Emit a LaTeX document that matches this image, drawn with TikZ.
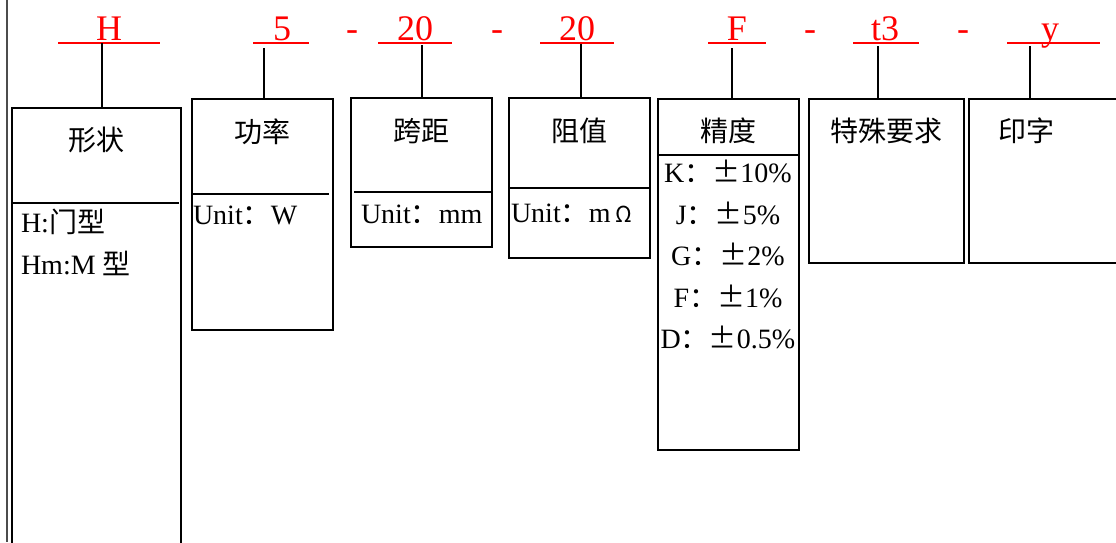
\documentclass[tikz,border=0pt]{standalone}
\usepackage{fontspec}
\setmainfont{Liberation Serif}
\newfontfamily\cjk{Noto Sans CJK SC}

\begin{document}
\begin{tikzpicture}[x=1pt, y=-1pt, every node/.style={inner sep=0pt, outer sep=0pt, font=\fontsize{28}{34}\selectfont},
    box/.style={draw, line width=1.6pt, anchor=north west},
    rule/.style={line width=2.8pt},
    link/.style={line width=1.6pt},
    code/.style={red, anchor=base, font=\fontsize{36}{40}\selectfont},
    uline/.style={red, line width=1.2pt}]
  \useasboundingbox (0,0) rectangle (1116,542);

  % Frame line
  \draw[gray!60!black, line width=1.2pt] (7,0) -- (7,542);

  % Code letters
  \node[code] (cH) at (109,40) {H};
  \node[code] (c5) at (282,40) {5};
  \node[code] (d1) at (352,40) {-};
  \node[code] (c20a) at (415,40) {20};
  \node[code] (d2) at (497,40) {-};
  \node[code] (c20b) at (577,40) {20};
  \node[code] (cF) at (737,40) {F};
  \node[code] (d3) at (810,40) {-};
  \node[code] (ct3) at (885,40) {t3};
  \node[code] (d4) at (963,40) {-};
  \node[code] (cy) at (1050,40) {y};

  % Underlines
  \draw[uline] (58,43) -- (160,43);
  \draw[uline] (253,43) -- (309,43);
  \draw[uline] (378,43) -- (452,43);
  \draw[uline] (540,43) -- (614,43);
  \draw[uline] (708,43) -- (766,43);
  \draw[uline] (853,43) -- (919,43);
  \draw[uline] (1007,43) -- (1100,43);
  \coordinate (uH) at (102,43);
  \coordinate (u5) at (264,48);
  \coordinate (u20a) at (422,45);
  \coordinate (u20b) at (581,44);
  \coordinate (uF) at (732,48);
  \coordinate (ut3) at (878,46);
  \coordinate (uy) at (1030,46);

  % Boxes
  \node[box, minimum width=169, minimum height=480] (shape) at (12,108) {};
  \node[box, minimum width=141, minimum height=231] (power) at (192,99) {};
  \node[box, minimum width=141, minimum height=149] (span) at (351,98) {};
  \node[box, minimum width=141, minimum height=160] (res) at (509,98) {};
  \node[box, minimum width=141, minimum height=351] (prec) at (658,99) {};
  \node[box, minimum width=155, minimum height=164] (spec) at (809,99) {};
  \node[box, minimum width=200, minimum height=164] (print) at (969,99) {};

  % Dividers
  \draw[rule] (12,203) -- (179,203);
  \draw[rule] (192,194) -- (329,194);
  \draw[rule] (354,192) -- (491,192);
  \draw[rule] (509,188) -- (651,188);
  \draw[rule] (658,155) -- (800,155);

  % Connectors
  \draw[link, line width=2.8pt] (uH) -- (uH |- shape.north);
  \draw[link] (u5) -- (u5 |- power.north);
  \draw[link] (u20a) -- (u20a |- span.north);
  \draw[link] (u20b) -- (u20b |- res.north);
  \draw[link] (uF) -- (uF |- prec.north);
  \draw[link] (ut3) -- (ut3 |- spec.north);
  \draw[link] (uy) -- (uy |- print.north);

  % Titles
  \node (tShape) at (96,140) {\cjk 形状};
  \node (tPower) at (262,132) {\cjk 功率};
  \node (tSpan) at (421,131) {\cjk 跨距};
  \node (tRes) at (579,131) {\cjk 阻值};
  \node (tPrec) at (728,131) {\cjk 精度};
  \node (tSpec) at (886,131) {\cjk 特殊要求};
  \node (tPrint) at (1026,131) {\cjk 印字};

  % Contents
  \node[anchor=base west] (sH) at (21,232) {H:{\cjk 门型}};
  \node[anchor=base west] (sHm) at (21,274) {Hm:M {\cjk 型}};
  \node[anchor=base west] (pUnit) at (193,224) {Unit{\cjk ：}W};
  \node[anchor=base west] (sUnit) at (361,223) {Unit{\cjk ：}mm};
  \node[anchor=base west] (rUnit) at (511,222) {Unit{\cjk ：}m\,{\cjk\fontsize{22}{26}\selectfont Ω}};
  \node[anchor=base] (pK) at (728,182) {K{\cjk ：±}10\%};
  \node[anchor=base] (pJ) at (728,224) {J{\cjk ：±}5\%};
  \node[anchor=base] (pG) at (728,265) {G{\cjk ：±}2\%};
  \node[anchor=base] (pF) at (728,307) {F{\cjk ：±}1\%};
  \node[anchor=base] (pD) at (728,348) {D{\cjk ：±}0.5\%};
\end{tikzpicture}
\end{document}
